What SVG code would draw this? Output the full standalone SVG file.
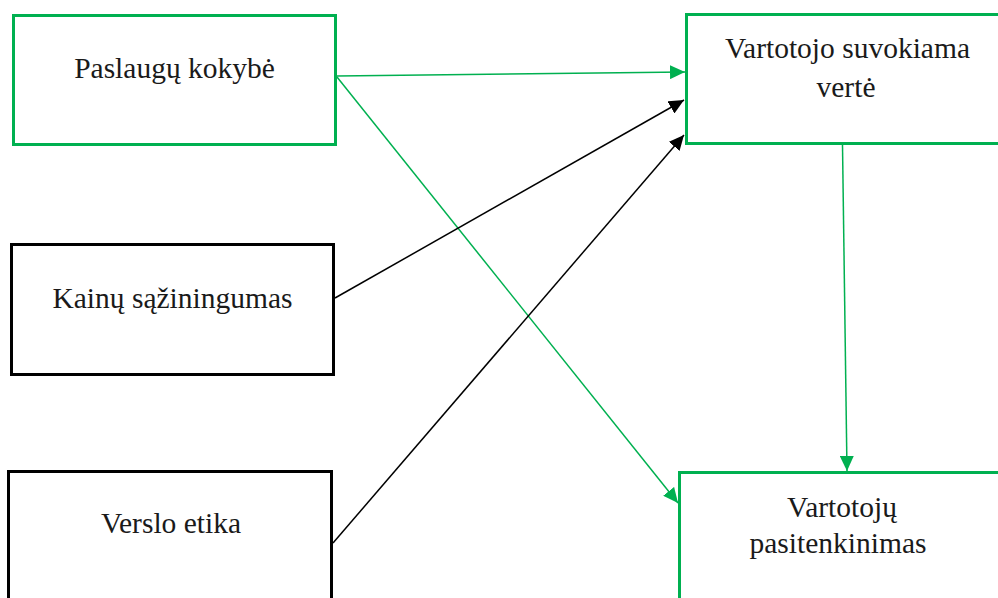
<svg xmlns="http://www.w3.org/2000/svg" width="998" height="598" viewBox="0 0 998 598">
  <style>
    .box { fill: #ffffff; stroke-width: 3; }
    .g { stroke: #00b050; }
    .k { stroke: #000000; }
    .lbl { font-family: "Liberation Serif", "Times New Roman", serif; font-size: 29.5px; fill: #1a1a1a; text-anchor: middle; }
    .edge { fill: none; stroke-width: 1.5; }
  </style>
  <defs>
    <marker id="arrowGreen" markerUnits="userSpaceOnUse" markerWidth="16" markerHeight="14" refX="15" refY="7" orient="auto">
      <path d="M0,0 L15,7 L0,14 Z" fill="#00b050"/>
    </marker>
    <marker id="arrowBlack" markerUnits="userSpaceOnUse" markerWidth="16" markerHeight="14" refX="15" refY="7" orient="auto">
      <path d="M0,0 L15,7 L0,14 Z" fill="#000000"/>
    </marker>
  </defs>

  <rect width="998" height="598" fill="#ffffff"/>

  <!-- left column: three input factors -->
  <g id="paslaugu-kokybe">
    <rect class="box g" x="13.5" y="15.5" width="322" height="129"/>
    <text class="lbl" x="174.5" y="78">Paslaugų kokybė</text>
  </g>

  <g id="kainu-saziningumas">
    <rect class="box k" x="11.5" y="244.5" width="322" height="130"/>
    <text class="lbl" x="172.5" y="308">Kainų sąžiningumas</text>
  </g>

  <g id="verslo-etika">
    <rect class="box k" x="8.5" y="471.5" width="323" height="140"/>
    <text class="lbl" x="171" y="533">Verslo etika</text>
  </g>

  <!-- right column: outcomes -->
  <g id="vartotojo-suvokiama-verte">
    <rect class="box g" x="686.5" y="14.5" width="320" height="129"/>
    <text class="lbl" x="847.5" y="58">Vartotojo suvokiama</text>
    <text class="lbl" x="846" y="97">vertė</text>
  </g>

  <g id="vartotoju-pasitenkinimas">
    <rect class="box g" x="679.5" y="472.5" width="330" height="140"/>
    <text class="lbl" x="842" y="517">Vartotojų</text>
    <text class="lbl" x="838" y="553">pasitenkinimas</text>
  </g>

  <g id="connectors">
    <line class="edge g" x1="337" y1="76" x2="685" y2="72" marker-end="url(#arrowGreen)"/>
    <line class="edge g" x1="337" y1="77" x2="678" y2="503" marker-end="url(#arrowGreen)"/>
    <line class="edge k" x1="335" y1="298" x2="684" y2="100" marker-end="url(#arrowBlack)"/>
    <line class="edge k" x1="333" y1="543" x2="684" y2="135" marker-end="url(#arrowBlack)"/>
    <line class="edge g" x1="842.5" y1="145" x2="847" y2="471" marker-end="url(#arrowGreen)"/>
  </g>
</svg>
